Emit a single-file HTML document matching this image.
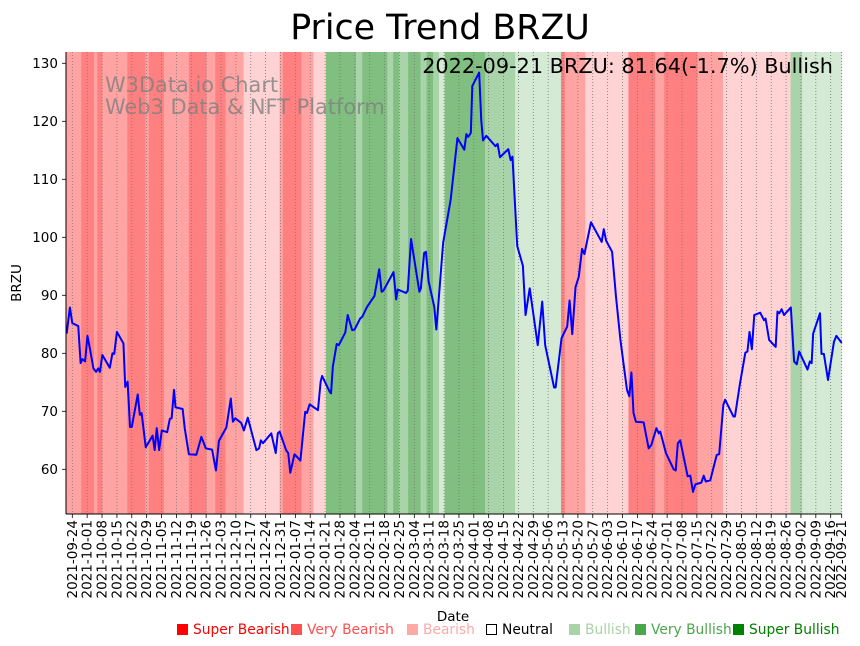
<!DOCTYPE html>
<html><head><meta charset="utf-8">
<style>
html,body{margin:0;padding:0;background:#fff;}
svg{display:block;font-family:"DejaVu Sans","Liberation Sans",sans-serif;}
</style></head>
<body>
<svg id="chart" width="860" height="646" viewBox="0 0 860 646">
  <g id="bands"></g>
  <g id="grid"></g>
  <g id="series"></g>
  <g id="axes"></g>
  <text x="440" y="39" text-anchor="middle" font-size="34.8" fill="#000">Price Trend BRZU</text>
  <text x="833" y="73" text-anchor="end" font-size="20.8" fill="#000">2022-09-21 BRZU: 81.64(-1.7%) Bullish</text>
  <text x="105" y="92" font-size="20.9" fill="#808080" fill-opacity="0.8">W3Data.io Chart</text>
  <text x="105" y="114" font-size="20.9" fill="#808080" fill-opacity="0.8">Web3 Data &amp; NFT Platform</text>
  <text transform="translate(21,283) rotate(-90)" text-anchor="middle" font-size="13.5" fill="#000">BRZU</text>
  <text x="453" y="621" text-anchor="middle" font-size="13.5" fill="#000">Date</text>
  <g id="legend"></g>
</svg>
<script>
const tickLabels = ["2021-09-24","2021-10-01","2021-10-08","2021-10-15","2021-10-22","2021-10-29","2021-11-05","2021-11-12","2021-11-19","2021-11-26","2021-12-03","2021-12-10","2021-12-17","2021-12-24","2021-12-31","2022-01-07","2022-01-14","2022-01-21","2022-01-28","2022-02-04","2022-02-11","2022-02-18","2022-02-25","2022-03-04","2022-03-11","2022-03-18","2022-03-25","2022-04-01","2022-04-08","2022-04-15","2022-04-22","2022-04-29","2022-05-06","2022-05-13","2022-05-20","2022-05-27","2022-06-03","2022-06-10","2022-06-17","2022-06-24","2022-07-01","2022-07-08","2022-07-15","2022-07-22","2022-07-29","2022-08-05","2022-08-12","2022-08-19","2022-08-26","2022-09-02","2022-09-09","2022-09-16","2022-09-21"];
const tickIndex = [2,7,12,17,22,27,32,37,42,47,52,57,62,67,72,77,82,87,92,97,102,107,112,117,122,127,132,137,142,147,152,157,162,167,172,177,182,187,192,197,202,207,212,217,222,227,232,237,242,247,252,257,260.7];
const yTicks = [60,70,80,90,100,110,120,130];
const sessionIndex = [0.1,1.2,2.0,4.0,4.8,5.4,6.3,7.1,8.0,9.1,10.0,10.7,11.3,12.1,14.6,15.5,16.1,17.0,19.2,19.8,20.6,21.4,22.0,24.0,24.7,25.3,26.7,29.0,29.7,30.4,31.2,32.1,33.9,34.8,35.4,36.2,36.7,39.1,39.8,41.2,43.7,45.4,46.9,49.0,50.3,51.3,52.7,53.8,55.3,56.0,56.8,58.8,59.7,61.0,63.9,64.8,65.4,66.1,68.9,70.4,71.1,71.7,73.9,74.6,75.3,76.7,78.7,80.3,80.9,81.8,84.6,85.5,86.0,88.5,89.0,89.6,90.9,91.6,93.8,94.6,96.1,96.9,98.8,99.5,101.1,103.6,105.2,106.0,106.6,110.0,110.9,111.4,114.2,114.8,115.9,118.7,119.2,120.3,120.9,121.8,123.7,124.4,126.7,129.2,131.5,133.8,134.5,135.1,136.0,136.5,138.8,139.5,140.1,141.2,144.3,145.0,145.8,148.6,149.4,150.0,151.6,153.5,154.4,155.8,158.5,160.0,161.0,164.0,164.5,166.5,168.4,169.2,170.1,171.2,172.3,173.4,174.2,176.4,180.0,180.7,181.5,183.5,184.8,186.3,188.5,189.3,190.0,190.7,191.5,194.1,195.8,196.7,198.4,199.2,199.7,201.6,204.2,204.9,205.6,206.4,208.9,209.8,210.7,211.5,213.5,214.3,215.0,216.5,218.7,219.5,220.9,221.5,224.3,224.8,226.5,228.3,229.0,229.7,230.5,231.3,233.3,234.6,235.1,236.3,238.5,239.1,239.7,240.5,241.3,243.6,244.7,245.6,246.4,249.2,250.0,250.6,251.1,253.4,253.9,254.7,256.1,258.1,258.9,260.7];
const prices = [83.4,87.9,85.2,84.7,78.3,79.0,78.6,83.0,80.6,77.4,76.8,77.4,76.8,79.7,77.5,80.0,79.9,83.7,81.7,74.2,75.1,67.3,67.3,72.9,69.4,69.7,63.8,65.8,63.3,67.1,63.3,66.7,66.4,68.7,68.8,73.7,70.7,70.4,67.1,62.6,62.5,65.6,63.6,63.4,59.8,64.9,66.2,67.2,72.2,68.2,68.8,68.0,66.7,68.9,63.3,63.6,65.0,64.5,66.2,62.8,66.2,66.5,63.3,62.8,59.4,62.6,61.5,69.9,69.7,71.2,70.2,75.1,76.1,73.4,73.1,77.7,81.6,81.4,83.6,86.6,84.0,84.1,86.0,86.3,88.0,89.9,94.5,90.6,90.8,94.0,89.3,91.0,90.4,90.8,99.7,90.6,91.2,97.3,97.5,92.4,88.0,84.1,99.1,106.4,117.1,115.1,117.8,117.3,118.0,126.1,128.4,120.2,116.7,117.5,115.7,116.1,113.8,115.2,113.3,113.9,98.5,95.1,86.6,91.2,81.4,88.9,81.4,74.1,74.1,82.6,84.6,89.1,83.3,91.4,93.2,98.0,97.1,102.6,99.2,101.4,99.4,97.5,89.8,82.3,73.7,72.6,76.7,69.7,68.2,68.1,63.6,64.2,67.1,66.2,66.5,62.8,60.0,59.8,64.5,65.0,58.8,58.9,56.1,57.4,57.7,58.9,57.9,58.1,62.5,62.6,71.1,72.0,69.1,69.1,74.8,80.1,80.3,83.7,80.7,86.6,87.0,85.7,86.0,82.3,81.1,87.2,86.9,87.6,86.6,87.9,78.6,78.1,80.3,77.2,78.6,78.3,83.4,86.9,79.9,79.9,75.4,82.0,83.0,81.8,81.6];
const bandStart = [0,5,9.3,10.4,12.1,20.5,26.6,27.7,32.8,41.2,47.1,50.1,53.5,59.6,71.7,72.8,79.1,83.1,87.3,97.4,99.5,107.9,109.9,111.9,114.9,119.1,121.1,123.3,125.3,127.2,140.8,150.9,166.3,167.6,174.5,189,198,201,212.2,220.8,243.5,247.4];
const bandLevel = [-2,-3,-2,-3,-2,-3,-2,-3,-2,-3,-2,-3,-2,-1,-2,-3,-2,-1,3,2,3,2,3,2,3,2,3,2,1,3,2,1,-3,-2,-1,-3,-2,-3,-2,-1,2,1];
const legendNames = ["Super Bearish","Very Bearish","Bearish","Neutral","Bullish","Very Bullish","Super Bullish"];

const NS = "http://www.w3.org/2000/svg";
const X0 = 66.35, IMAX = 260.7, X1 = 841.7;
const Y_TOP = 52, Y_BOT = 514;
function xScale(i){ return X0 + (X1 - X0) * i / IMAX; }
function yScale(v){ return 63.3 + (130 - v) * 5.8; }
function mk(tag, attrs, parent){ const e = document.createElementNS(NS, tag); for (const k in attrs) e.setAttribute(k, attrs[k]); parent.appendChild(e); return e; }
const bandColor = {"-3":"#ff8080","-2":"#ffa3a3","-1":"#ffd3d3","0":"#ffffff","1":"#d4ead4","2":"#a9d4a9","3":"#80bf80"};

const gB = document.getElementById("bands");
for (let k = 0; k < bandStart.length; k++) {
  const s = bandStart[k], e = k + 1 < bandStart.length ? bandStart[k+1] : IMAX;
  const r = mk("rect", {x: xScale(s), y: Y_TOP, width: xScale(e) - xScale(s) + 0.3, height: Y_BOT - Y_TOP, fill: bandColor[bandLevel[k]]}, gB);
  
  
}

const gG = document.getElementById("grid");
const gA = document.getElementById("axes");
for (let k = 0; k < tickIndex.length; k++) {
  const x = xScale(tickIndex[k]);
  const l = mk("line", {x1: x, x2: x, y1: Y_TOP, y2: Y_BOT, stroke: "#777", "stroke-width": 0.8, "stroke-dasharray": "1,2"}, gG);
  
  
  const t = mk("line", {x1: x, x2: x, y1: Y_BOT, y2: Y_BOT + 4, stroke: "#000", "stroke-width": 0.8}, gA);
  
  
  const lb = mk("text", {transform: "translate(" + (x + 4.5) + "," + (Y_BOT + 6) + ") rotate(-90)", "text-anchor": "end", "font-size": 13.5, fill: "#000"}, gA);
  lb.textContent = tickLabels[k];
  
  
}
for (const v of yTicks) {
  const y = yScale(v);
  const t = mk("line", {x1: 62, x2: 66, y1: y, y2: y, stroke: "#000", "stroke-width": 0.8}, gA);
  
  
  const lb = mk("text", {x: 58, y: y + 4.5, "text-anchor": "end", "font-size": 13.5, fill: "#000"}, gA);
  lb.textContent = v;
  
  
}
const sp1 = mk("line", {x1: 66, x2: 66, y1: Y_TOP, y2: Y_BOT, stroke: "#000", "stroke-width": 1}, gA);


const sp2 = mk("line", {x1: 66, x2: X1, y1: Y_BOT, y2: Y_BOT, stroke: "#000", "stroke-width": 1}, gA);



const gS = document.getElementById("series");
let d = "";
for (let k = 0; k < prices.length; k++) d += (k ? "L" : "M") + xScale(sessionIndex[k]).toFixed(2) + "," + yScale(prices[k]).toFixed(2);
const path = mk("path", {d: d, fill: "none", stroke: "#0000ff", "stroke-width": 2, "stroke-linejoin": "round"}, gS);



const gL = document.getElementById("legend");
const legendColors = ["#ff0000","#ff5050","#ffa8a8","#000000","#a8d4a8","#4ca64c","#008000"];
const legendX = [177,291,407,486,569,635,733];
for (let k = 0; k < legendNames.length; k++) {
  const sq = mk("rect", k === 3 ? {x: legendX[k] + 0.5, y: 624.5, width: 10, height: 10, fill: "#fff", stroke: "#000", "stroke-width": 1} : {x: legendX[k], y: 624, width: 11, height: 11, fill: legendColors[k]}, gL);
  
  
  const t = mk("text", {x: legendX[k] + 16, y: 634, "font-size": 13.8, fill: legendColors[k]}, gL);
  t.textContent = legendNames[k];
  
  
}
</script>
</body></html>
